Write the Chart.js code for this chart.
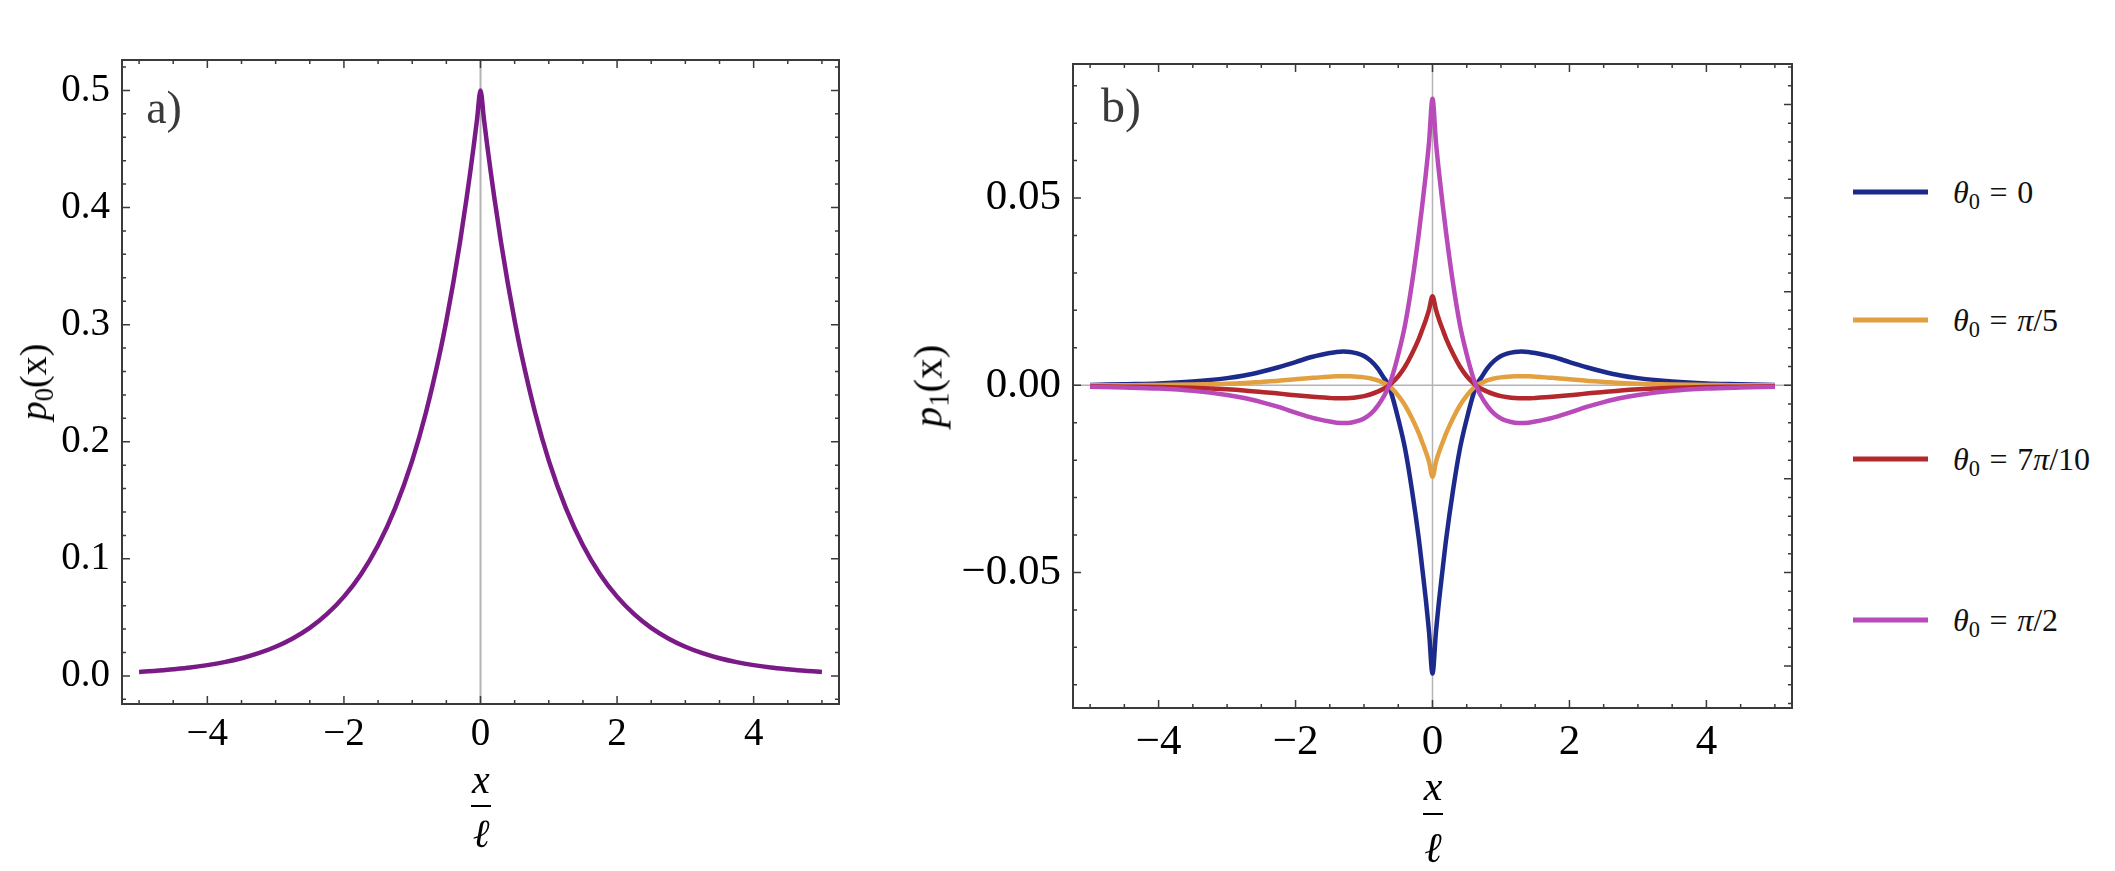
<!DOCTYPE html>
<html>
<head>
<meta charset="utf-8"/>
<style>
  html,body{margin:0;padding:0;background:#fff;}
  body{width:2115px;height:871px;position:relative;overflow:hidden;font-family:"Liberation Serif","Times New Roman","DejaVu Serif",serif;}
  .box{position:absolute;top:0;height:871px;}
  .t{position:absolute;white-space:nowrap;transform:translate(-50%,-50%);line-height:1;color:#000;}
  .rot{transform:translate(-50%,-50%) rotate(-90deg);}
  .tag{color:#3a3a3a;}
  .bar{position:absolute;height:2px;background:#000;transform:translate(-50%,-50%);}
  sub{font-size:0.7em;vertical-align:-0.25em;line-height:0;}
  .sw{position:absolute;height:5px;width:75px;transform:translateY(-50%);}
  .lt{position:absolute;white-space:nowrap;transform:translateY(-50%);font-size:32px;line-height:1;color:#111;}
  .eq{margin:0 0.3em;}
</style>
</head>
<body>
<div class="box" style="left:0;width:900px"><canvas id="ca"></canvas></div>
<div class="box" style="left:950px;width:860px"><canvas id="cb"></canvas></div>

<div class="t tag" style="left:164px;top:108px;font-size:46px">a)</div>
<div class="t tag" style="left:1121px;top:106px;font-size:48px">b)</div>

<div class="t rot" style="left:33px;top:382px;font-size:38px"><i>p</i><sub>0</sub>(x)</div>
<div class="t rot" style="left:928px;top:386px;font-size:41px"><i>p</i><sub>1</sub>(x)</div>

<div class="t" style="left:481px;top:780px;font-size:40px"><i>x</i></div>
<div class="bar" style="left:481px;top:806px;width:20px"></div>
<div class="t" style="left:481px;top:834px;font-size:40px"><i>ℓ</i></div>

<div class="t" style="left:1433px;top:786px;font-size:42px"><i>x</i></div>
<div class="bar" style="left:1433px;top:814px;width:20px"></div>
<div class="t" style="left:1433px;top:848px;font-size:42px"><i>ℓ</i></div>

<div id="legend"></div>

<script src="https://cdn.jsdelivr.net/npm/chart.js@4.4.0/dist/chart.umd.min.js"></script>
<script>
// ---- panel a) p0(x) ----
const aX  = [-5,-4.75,-4.5,-4.25,-4,-3.75,-3.5,-3.25,-3,-2.75,-2.5,-2.25,-2,-1.75,-1.5,-1.25,-1,-0.8,-0.6,-0.5,-0.4,-0.3,-0.2,-0.15,-0.1,-0.05,
             0,
             0.05,0.1,0.15,0.2,0.3,0.4,0.5,0.6,0.8,1,1.25,1.5,1.75,2,2.25,2.5,2.75,3,3.25,3.5,3.75,4,4.25,4.5,4.75,5];
const aP0 = [0.0034,0.0043,0.0056,0.0071,0.0092,0.0118,0.0151,0.0194,0.0249,0.0320,0.0410,0.0527,0.0677,0.0869,0.1116,0.1433,0.1839,0.2247,0.2744,0.3033,0.3352,0.3704,0.4094,0.4304,0.4524,0.4756,
             0.5000,
             0.4756,0.4524,0.4304,0.4094,0.3704,0.3352,0.3033,0.2744,0.2247,0.1839,0.1433,0.1116,0.0869,0.0677,0.0527,0.0410,0.0320,0.0249,0.0194,0.0151,0.0118,0.0092,0.0071,0.0056,0.0043,0.0034];

const aXTicks  = [-4,-2,0,2,4];
const aXLabels = ["\u22124","\u22122","0","2","4"];
const aYTicks  = [0,0.1,0.2,0.3,0.4,0.5];
const aYLabels = ["0.0","0.1","0.2","0.3","0.4","0.5"];

// ---- panel b) p1(x) for four theta0 ----
const bX = [-5,-4.5,-4,-3.5,-3,-2.75,-2.5,-2.25,-2,-1.75,-1.5,-1.4,-1.3,-1.2,-1.1,-1,-0.9,-0.8,-0.7,-0.65,-0.6,-0.5,-0.4,-0.3,-0.2,-0.15,-0.1,-0.05,
            0,
            0.05,0.1,0.15,0.2,0.3,0.4,0.5,0.6,0.65,0.7,0.8,0.9,1,1.1,1.2,1.3,1.4,1.5,1.75,2,2.25,2.5,2.75,3,3.5,4,4.5,5];
const bTheta0 = [0.0001,0.0003,0.0005,0.0010,0.0019,0.0026,0.0036,0.0048,0.0062,0.0076,0.0086,0.0089,0.0090,0.0089,0.0085,0.0078,0.0065,0.0045,0.0017,0.0004,-0.0022,-0.0090,-0.0170,-0.0280,-0.0410,-0.0488,-0.0568,-0.0660,
                 -0.0770,
                 -0.0660,-0.0568,-0.0488,-0.0410,-0.0280,-0.0170,-0.0090,-0.0022,0.0004,0.0017,0.0045,0.0065,0.0078,0.0085,0.0089,0.0090,0.0089,0.0086,0.0076,0.0062,0.0048,0.0036,0.0026,0.0019,0.0010,0.0005,0.0003,0.0001];
const bPi5 = [0.0000,0.0000,0.0001,0.0002,0.0004,0.0006,0.0009,0.0012,0.0016,0.0020,0.0023,0.0024,0.0024,0.0024,0.0023,0.0021,0.0018,0.0013,0.0005,0.0001,-0.0007,-0.0028,-0.0054,-0.0088,-0.0128,-0.0152,-0.0176,-0.0205,
              -0.0245,
              -0.0205,-0.0176,-0.0152,-0.0128,-0.0088,-0.0054,-0.0028,-0.0007,0.0001,0.0005,0.0013,0.0018,0.0021,0.0023,0.0024,0.0024,0.0024,0.0023,0.0020,0.0016,0.0012,0.0009,0.0006,0.0004,0.0002,0.0001,0.0000,0.0000];
const b7Pi10 = [-0.0003,-0.0004,-0.0005,-0.0007,-0.0011,-0.0014,-0.0018,-0.0022,-0.0027,-0.0031,-0.0034,-0.0035,-0.0035,-0.0034,-0.0032,-0.0029,-0.0024,-0.0017,-0.0008,-0.0002,0.0005,0.0024,0.0050,0.0084,0.0124,0.0148,0.0173,0.0202,
                0.0238,
                0.0202,0.0173,0.0148,0.0124,0.0084,0.0050,0.0024,0.0005,-0.0002,-0.0008,-0.0017,-0.0024,-0.0029,-0.0032,-0.0034,-0.0035,-0.0035,-0.0034,-0.0031,-0.0027,-0.0022,-0.0018,-0.0014,-0.0011,-0.0007,-0.0005,-0.0004,-0.0003];
const bPi2 = [-0.0004,-0.0006,-0.0009,-0.0015,-0.0026,-0.0034,-0.0045,-0.0058,-0.0073,-0.0087,-0.0097,-0.0100,-0.0101,-0.0100,-0.0096,-0.0089,-0.0076,-0.0055,-0.0026,-0.0007,0.0017,0.0082,0.0162,0.0272,0.0405,0.0480,0.0560,0.0650,
              0.0765,
              0.0650,0.0560,0.0480,0.0405,0.0272,0.0162,0.0082,0.0017,-0.0007,-0.0026,-0.0055,-0.0076,-0.0089,-0.0096,-0.0100,-0.0101,-0.0100,-0.0097,-0.0087,-0.0073,-0.0058,-0.0045,-0.0034,-0.0026,-0.0015,-0.0009,-0.0006,-0.0004];

const bNames  = ["<i>θ</i><sub>0</sub><span class='eq'>=</span>0",
                 "<i>θ</i><sub>0</sub><span class='eq'>=</span><i>π</i>/5",
                 "<i>θ</i><sub>0</sub><span class='eq'>=</span>7<i>π</i>/10",
                 "<i>θ</i><sub>0</sub><span class='eq'>=</span><i>π</i>/2"];
const bXTicks  = [-4,-2,0,2,4];
const bXLabels = ["\u22124","\u22122","0","2","4"];
const bYTicks  = [-0.05,0,0.05];
const bYLabels = ["\u22120.05","0.00","0.05"];

const colA = "#7a1a86";
const colB = ["#1c2a8c","#e2a040","#b3282c","#b94ab9"];
const FAMILY = "'Liberation Serif', 'Times New Roman', 'DejaVu Serif', serif";

function range(a, b, st) { const r = []; for (let v = a; v <= b + 1e-9; v += st) r.push(+v.toFixed(4)); return r; }
const pts = (xs, ys) => xs.map((x, i) => ({x, y: ys[i]}));

// frame, inward ticks and zero axes (Mathematica style)
const framePlugin = {
  id: "frame",
  beforeDatasetsDraw(chart, args, o) {
    const {ctx, chartArea: a, scales: {x, y}} = chart;
    ctx.save();
    ctx.strokeStyle = "#b4b4b4"; ctx.lineWidth = o.zeroW;
    ctx.beginPath();
    const x0 = x.getPixelForValue(0);
    ctx.moveTo(x0, a.top); ctx.lineTo(x0, a.bottom);
    if (o.hZero) { const y0 = y.getPixelForValue(0); ctx.moveTo(a.left, y0); ctx.lineTo(a.right, y0); }
    ctx.stroke();
    ctx.restore();
  },
  afterDatasetsDraw(chart, args, o) {
    const {ctx, chartArea: a, scales: {x, y}} = chart;
    ctx.save();
    ctx.strokeStyle = "#3a3a3a";
    ctx.lineWidth = 2;
    ctx.strokeRect(a.left, a.top, a.right - a.left, a.bottom - a.top);
    ctx.lineWidth = 1.5;
    ctx.beginPath();
    const hx = (vals, len) => vals.forEach(v => {
      const p = x.getPixelForValue(v);
      ctx.moveTo(p, a.bottom); ctx.lineTo(p, a.bottom - len);
      ctx.moveTo(p, a.top);    ctx.lineTo(p, a.top + len);
    });
    const vy = (vals, len, side) => vals.forEach(v => {
      const p = y.getPixelForValue(v);
      if (p < a.top || p > a.bottom) return;
      if (side === "l") { ctx.moveTo(a.left, p);  ctx.lineTo(a.left + len, p); }
      else              { ctx.moveTo(a.right, p); ctx.lineTo(a.right - len, p); }
    });
    hx(o.xMinor, 4); hx(o.xMajor, 8);
    vy(o.lMinor, 4, "l"); vy(o.lMajor, 8, "l");
    vy(o.rMinor, 4, "r"); vy(o.rMajor, 8, "r");
    ctx.stroke();
    ctx.restore();
  }
};

function axes(xTicks, xLabels, yTicks, yLabels, fs, xH, yW, xPad) {
  const font = {family: FAMILY, size: fs};
  return {
    x: {type: "linear", min: -5.25, max: 5.25,
        grid: {display: false, drawTicks: false}, border: {display: false},
        afterBuildTicks: s => { s.ticks = xTicks.map(v => ({value: v})); },
        afterFit: s => { s.height = xH; },
        ticks: {font, color: "#000", padding: xPad, maxRotation: 0, autoSkip: false,
                callback: (v, i) => xLabels[i]}},
    y: {type: "linear",
        grid: {display: false, drawTicks: false}, border: {display: false},
        afterBuildTicks: s => { s.ticks = yTicks.map(v => ({value: v})); },
        afterFit: s => { s.width = yW; },
        ticks: {font, color: "#000", padding: 12, autoSkip: false,
                callback: (v, i) => yLabels[i]}}
  };
}

Chart.defaults.animation = false;
Chart.defaults.font.family = FAMILY;

const scA = axes(aXTicks, aXLabels, aYTicks, aYLabels, 39, 167, 122, 7);
scA.y.min = -0.024; scA.y.max = 0.526;
new Chart(document.getElementById("ca"), {
  type: "line",
  data: {datasets: [{
    label: "p0(x)", data: pts(aX, aP0), borderColor: colA, borderWidth: 4.5,
    pointRadius: 0, cubicInterpolationMode: "monotone", fill: false
  }]},
  options: {
    responsive: true, maintainAspectRatio: false,
    layout: {padding: {left: 0, top: 60, right: 61, bottom: 0}},
    plugins: {legend: {display: false}, tooltip: {enabled: false},
      frame: {zeroW: 2, hZero: false,
        xMajor: range(-4, 4, 2), xMinor: range(-5, 5, 0.5),
        lMajor: aYTicks, lMinor: range(-0.02, 0.52, 0.02),
        rMajor: aYTicks, rMinor: range(-0.02, 0.52, 0.02)}},
    scales: scA
  },
  plugins: [framePlugin]
});

const bSeries = [bTheta0, bPi5, b7Pi10, bPi2];
const scB = axes(bXTicks, bXLabels, bYTicks, bYLabels, 43, 163, 123, 9);
scB.y.min = -0.0862; scB.y.max = 0.0858;
new Chart(document.getElementById("cb"), {
  type: "line",
  data: {datasets: bSeries.map((ys, i) => ({
    label: "s" + i, data: pts(bX, ys), borderColor: colB[i], borderWidth: 4.5,
    pointRadius: 0, cubicInterpolationMode: "monotone", fill: false,
    order: bSeries.length - i
  }))},
  options: {
    responsive: true, maintainAspectRatio: false,
    layout: {padding: {left: 0, top: 64, right: 18, bottom: 0}},
    plugins: {legend: {display: false}, tooltip: {enabled: false},
      frame: {zeroW: 1.5, hZero: true,
        xMajor: range(-4, 4, 2), xMinor: range(-5, 5, 0.5),
        lMajor: bYTicks, lMinor: range(-0.08, 0.08, 0.01),
        rMajor: range(-0.075, 0.075, 0.025), rMinor: range(-0.085, 0.085, 0.005)}},
    scales: scB
  },
  plugins: [framePlugin]
});

// legend to the right of panel b)
const legY = [192, 320, 459, 620];
const leg = document.getElementById("legend");
bNames.forEach((n, i) => {
  const sw = document.createElement("div");
  sw.className = "sw"; sw.style.left = "1853px"; sw.style.top = legY[i] + "px"; sw.style.background = colB[i];
  const t = document.createElement("div");
  t.className = "lt"; t.style.left = "1953px"; t.style.top = legY[i] + "px"; t.innerHTML = n;
  leg.appendChild(sw); leg.appendChild(t);
});
</script>
</body>
</html>
